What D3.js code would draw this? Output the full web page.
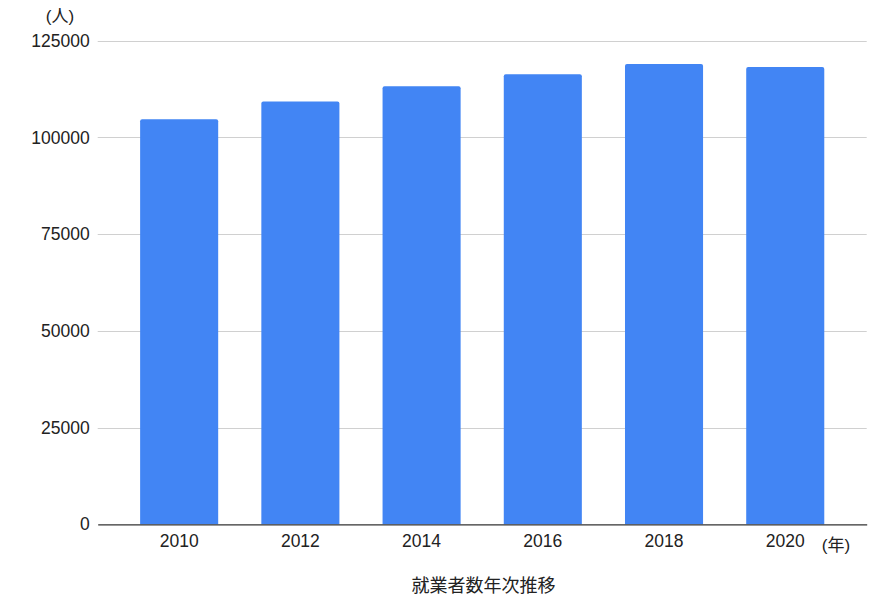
<!DOCTYPE html>
<html>
<head>
<meta charset="utf-8">
<script src="https://cdn.jsdelivr.net/npm/d3@7"></script>
<style>
  html, body { margin: 0; padding: 0; background: #fff; }
  svg { display: block; }
  text { font-family: "Liberation Sans", Arial, "Noto Sans CJK JP", sans-serif; fill: #222; }
</style>
</head>
<body>
<svg id="chart" width="894" height="614"></svg>
<script>
const years = ["2010", "2012", "2014", "2016", "2018", "2020"];
const workers = [104700, 109300, 113200, 116300, 119000, 118200];
const yTicks = [0, 25000, 50000, 75000, 100000, 125000];
const yUnit = "(人)";
const xUnit = "(年)";
const title = "就業者数年次推移";

(function () {
const svg = d3.select("#chart");
const mLeft = 97.7, mRight = 866.7, mTop = 40.7, mBottom = 524.3;

const x = d3.scaleBand().domain(years).range([mLeft, mRight]).paddingInner(0.356).paddingOuter(0.35);
const y = d3.scaleLinear().domain([0, 125000]).range([mBottom, mTop]);

// gridlines
svg.append("g").selectAll("line").data(yTicks.filter(d => d !== 0)).join("line")
  .attr("x1", mLeft).attr("x2", mRight)
  .attr("y1", d => Math.round(y(d)) + 0.5).attr("y2", d => Math.round(y(d)) + 0.5)
  .attr("stroke", "#d0d0d0").attr("stroke-width", 1.2);

// y axis labels
const yAxis = d3.axisLeft(y).tickValues(yTicks).tickSize(0).tickPadding(8).tickFormat(d3.format("d"));
const gy = svg.append("g").attr("transform", `translate(${mLeft},0)`).call(yAxis);
gy.select(".domain").remove();
gy.selectAll("text").attr("font-size", 17.5).attr("fill", "#222")
  .attr("font-family", "'Liberation Sans', Arial, sans-serif");

// bars with rounded top corners
const r = 2;
svg.append("g").selectAll("path").data(years).join("path")
  .attr("fill", "#4285F4")
  .attr("d", (d, i) => {
    const x0 = x(d), w = x.bandwidth(), y0 = y(workers[i]), y1 = y(0);
    return `M${x0},${y1}V${y0 + r}Q${x0},${y0} ${x0 + r},${y0}H${x0 + w - r}Q${x0 + w},${y0} ${x0 + w},${y0 + r}V${y1}Z`;
  });

// x axis
const xAxis = d3.axisBottom(x).tickSize(0).tickPadding(10);
const gx = svg.append("g").attr("transform", `translate(0,${mBottom})`).call(xAxis);
gx.select(".domain").attr("stroke", "#333").attr("stroke-width", 1.3);
gx.selectAll("text").attr("font-size", 17.5).attr("fill", "#222")
  .attr("font-family", "'Liberation Sans', Arial, sans-serif");

// unit labels
svg.append("text").attr("x", 60).attr("y", 16).attr("text-anchor", "middle")
  .attr("dominant-baseline", "central").attr("font-size", 17).text(yUnit);
svg.append("text").attr("x", 836).attr("y", 545).attr("text-anchor", "middle")
  .attr("dominant-baseline", "central").attr("font-size", 17).text(xUnit);

// title
svg.append("text").attr("x", 483.5).attr("y", 586).attr("text-anchor", "middle")
  .attr("dominant-baseline", "central").attr("font-size", 18)
  .attr("font-family", "'Noto Sans CJK JP', sans-serif").text(title);
})();
</script>
</body>
</html>
